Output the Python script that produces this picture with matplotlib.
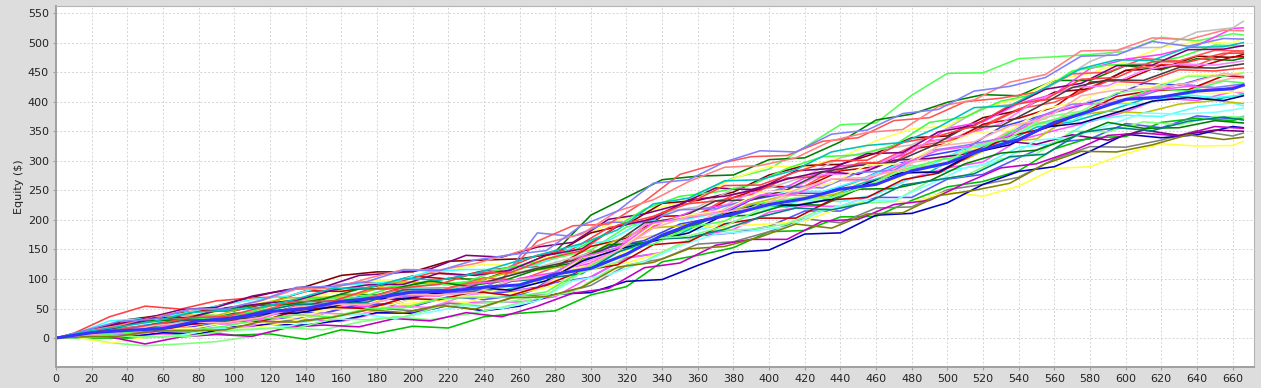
import matplotlib
matplotlib.use("Agg")
import matplotlib.pyplot as plt

grid_a = list(range(0, 661, 20)) + [666]
grid_b = [0] + list(range(10, 651, 20)) + [666]
grid_c = [0] + list(range(15, 656, 20)) + [666]

# equity paths ($), one list per simulated run
run_01 = [0, 12, 15, 26, 39, 38, 49, 67, 66, 83, 94, 90, 100, 116, 135, 149, 188, 207, 245, 271, 286, 323, 361, 364, 411, 448, 449, 473, 476, 480, 485, 509, 503, 515, 513]
run_02 = [0, 7, 17, 25, 28, 42, 43, 56, 74, 73, 90, 101, 99, 121, 146, 208, 238, 268, 274, 276, 302, 305, 332, 369, 379, 399, 412, 410, 436, 436, 461, 454, 473, 470, 474]
run_03 = [0, 12, 16, 18, 32, 38, 40, 60, 64, 66, 85, 85, 102, 98, 120, 146, 160, 199, 209, 243, 255, 257, 291, 296, 324, 333, 360, 388, 399, 424, 453, 463, 462, 485, 484]
run_04 = [0, 4, 7, 18, 17, 29, 33, 34, 49, 56, 53, 70, 65, 73, 94, 103, 136, 144, 173, 178, 189, 215, 215, 238, 238, 269, 277, 305, 331, 337, 363, 356, 376, 371, 375]
run_05 = [0, 13, 24, 28, 39, 51, 62, 67, 80, 98, 99, 114, 125, 122, 142, 180, 204, 222, 238, 270, 291, 290, 305, 334, 354, 359, 390, 405, 437, 448, 468, 492, 501, 499, 508]
run_06 = [0, 2, 3, 7, 6, 14, 25, 31, 28, 42, 43, 59, 61, 61, 70, 104, 135, 145, 173, 184, 213, 223, 223, 244, 271, 288, 298, 335, 351, 366, 383, 406, 402, 417, 414]
run_07 = [0, 11, 13, 28, 36, 33, 48, 60, 59, 64, 84, 84, 82, 100, 108, 117, 154, 179, 183, 197, 219, 234, 231, 243, 271, 283, 293, 323, 329, 368, 377, 375, 391, 398, 393]
run_08 = [0, 0, 0, 2, 11, 5, 7, -2, 14, 8, 20, 17, 36, 42, 46, 73, 87, 129, 140, 153, 180, 182, 205, 206, 233, 256, 265, 283, 320, 339, 341, 365, 372, 368, 373]
run_09 = [0, 12, 31, 39, 46, 62, 76, 87, 106, 112, 112, 130, 132, 134, 143, 178, 192, 228, 233, 247, 276, 292, 294, 313, 339, 342, 373, 385, 416, 422, 453, 456, 477, 475, 480]
run_10 = [0, 9, 8, 16, 26, 27, 40, 51, 48, 69, 68, 73, 88, 89, 108, 122, 165, 176, 196, 226, 227, 251, 266, 267, 297, 308, 325, 360, 368, 402, 404, 430, 427, 440, 440]
run_11 = [0, 2, 5, 14, 14, 17, 30, 30, 38, 51, 46, 59, 53, 72, 73, 89, 123, 134, 159, 163, 180, 202, 195, 220, 222, 251, 260, 272, 303, 324, 323, 335, 351, 342, 347]
run_12 = [0, 15, 26, 30, 46, 46, 60, 80, 79, 88, 105, 100, 114, 121, 120, 155, 169, 206, 208, 238, 257, 255, 283, 290, 320, 329, 362, 372, 391, 433, 437, 462, 458, 476, 476]
run_13 = [0, 6, 9, 19, 24, 24, 32, 50, 54, 54, 72, 74, 79, 101, 111, 127, 158, 196, 218, 227, 241, 271, 291, 296, 314, 355, 366, 397, 413, 456, 472, 480, 495, 524, 525]
run_14 = [0, 11, 15, 21, 35, 38, 42, 55, 72, 72, 86, 83, 94, 111, 128, 144, 167, 213, 222, 252, 254, 273, 305, 318, 327, 355, 390, 397, 430, 468, 491, 492, 518, 525, 536]
run_15 = [0, 7, 17, 15, 21, 35, 34, 42, 55, 64, 57, 68, 81, 76, 89, 121, 127, 145, 172, 190, 193, 198, 221, 235, 229, 248, 240, 257, 287, 290, 312, 329, 325, 326, 333]
run_16 = [0, 7, 2, 9, 7, 19, 23, 22, 30, 43, 42, 55, 46, 54, 74, 77, 96, 99, 123, 145, 149, 176, 178, 208, 211, 229, 260, 282, 290, 316, 345, 339, 344, 358, 356]
run_17 = [0, 3, -8, -13, -10, -6, 3, 17, 14, 27, 36, 31, 40, 52, 67, 78, 115, 130, 160, 182, 184, 193, 218, 228, 231, 266, 275, 303, 312, 350, 349, 366, 361, 375, 374]
run_18 = [0, 2, -9, 1, 4, 16, 17, 26, 42, 39, 54, 65, 60, 77, 82, 118, 129, 168, 184, 190, 221, 223, 234, 265, 267, 296, 319, 324, 360, 372, 401, 396, 415, 414, 418]
run_19 = [0, 3, 2, -10, 2, 6, 3, 18, 22, 19, 33, 29, 43, 36, 54, 76, 84, 119, 127, 157, 167, 167, 198, 201, 226, 233, 262, 288, 295, 316, 343, 347, 342, 358, 355]
run_20 = [0, 8, 36, 54, 49, 63, 68, 70, 87, 94, 93, 110, 106, 115, 140, 151, 187, 198, 226, 232, 243, 271, 273, 296, 298, 333, 342, 372, 401, 409, 435, 432, 454, 452, 457]
run_21 = [0, 5, 15, 17, 26, 36, 43, 45, 54, 70, 67, 78, 85, 80, 95, 128, 149, 162, 176, 207, 225, 222, 233, 260, 278, 281, 314, 327, 357, 366, 384, 404, 409, 404, 412]
run_22 = [0, 2, 10, 17, 16, 25, 37, 45, 42, 57, 58, 75, 77, 77, 86, 122, 154, 165, 193, 204, 234, 245, 245, 266, 293, 309, 320, 357, 374, 390, 407, 431, 428, 445, 442]
run_23 = [0, 6, 15, 31, 39, 38, 55, 68, 69, 74, 95, 94, 91, 108, 115, 123, 160, 185, 190, 204, 227, 242, 240, 251, 281, 292, 302, 331, 337, 376, 384, 381, 396, 402, 397]
run_24 = [0, 1, 7, 8, 19, 14, 21, 38, 42, 40, 54, 52, 72, 80, 84, 121, 142, 191, 204, 217, 246, 250, 277, 278, 307, 332, 343, 363, 402, 424, 427, 453, 464, 462, 469]
run_25 = [0, 6, 29, 33, 41, 54, 65, 71, 88, 91, 96, 113, 116, 116, 123, 154, 165, 198, 199, 211, 236, 249, 248, 266, 291, 292, 321, 331, 362, 368, 397, 396, 413, 407, 411]
run_26 = [0, 6, 21, 33, 48, 52, 71, 82, 86, 106, 110, 117, 140, 137, 154, 162, 201, 210, 226, 254, 251, 269, 282, 277, 301, 304, 311, 334, 328, 344, 335, 352, 343, 352, 350]
run_27 = [0, 2, 11, 22, 24, 27, 43, 44, 53, 68, 65, 79, 75, 98, 178, 172, 196, 196, 217, 219, 235, 257, 254, 280, 284, 317, 326, 338, 373, 396, 397, 411, 430, 424, 430]
run_28 = [0, 6, 18, 18, 33, 31, 42, 58, 57, 64, 81, 76, 92, 99, 164, 190, 193, 231, 277, 294, 307, 309, 333, 339, 368, 373, 400, 406, 416, 447, 450, 473, 469, 487, 486]
run_29 = [0, 4, 14, 28, 33, 34, 45, 63, 68, 68, 87, 90, 95, 117, 129, 147, 180, 218, 240, 247, 259, 287, 307, 310, 326, 365, 374, 401, 413, 452, 462, 464, 475, 496, 494]
run_30 = [0, 5, 11, 17, 30, 31, 34, 46, 62, 62, 76, 73, 85, 102, 118, 131, 153, 195, 203, 232, 234, 251, 281, 292, 297, 323, 356, 359, 390, 424, 437, 436, 458, 457, 464]
run_31 = [0, 1, 5, 1, 5, 16, 14, 20, 33, 41, 33, 44, 55, 50, 63, 97, 107, 129, 156, 176, 181, 188, 215, 233, 233, 260, 288, 299, 335, 340, 360, 381, 379, 382, 389]
run_32 = [0, 7, 17, 29, 31, 46, 55, 57, 66, 83, 84, 97, 88, 96, 116, 127, 158, 161, 182, 205, 208, 226, 225, 252, 253, 266, 295, 313, 318, 340, 365, 355, 356, 368, 364]
run_33 = [0, 11, 21, 35, 48, 50, 63, 83, 84, 101, 116, 115, 126, 142, 161, 176, 215, 234, 265, 289, 292, 305, 334, 348, 353, 392, 403, 433, 446, 486, 487, 508, 505, 521, 520]
run_34 = [0, 4, 11, 15, 16, 26, 25, 35, 50, 47, 62, 73, 70, 89, 96, 136, 149, 192, 208, 216, 247, 250, 262, 293, 295, 324, 347, 352, 388, 402, 429, 426, 445, 446, 450]
run_35 = [0, 7, 11, 11, 23, 29, 28, 47, 52, 50, 67, 65, 79, 72, 90, 114, 124, 158, 163, 193, 203, 203, 234, 238, 268, 279, 312, 342, 355, 380, 409, 419, 420, 444, 443]
run_36 = [0, 8, 18, 34, 35, 51, 58, 64, 81, 90, 91, 110, 106, 115, 140, 151, 189, 202, 234, 240, 253, 283, 287, 312, 314, 349, 360, 392, 421, 431, 461, 462, 488, 489, 495]
run_37 = [0, 7, 14, 14, 24, 33, 41, 42, 53, 67, 66, 77, 86, 81, 97, 130, 150, 164, 178, 209, 227, 224, 235, 262, 280, 281, 314, 327, 357, 364, 382, 401, 407, 402, 410]
run_38 = [0, 3, 8, 14, 13, 20, 32, 39, 36, 50, 51, 67, 69, 69, 78, 114, 147, 159, 187, 198, 228, 237, 237, 258, 285, 301, 312, 349, 366, 382, 399, 422, 418, 435, 432]
run_39 = [0, 7, 10, 24, 32, 29, 45, 57, 57, 61, 82, 82, 79, 96, 101, 109, 145, 167, 170, 184, 205, 220, 217, 229, 259, 268, 278, 307, 311, 348, 356, 351, 367, 374, 369]
run_40 = [0, 3, 13, 16, 28, 25, 33, 52, 58, 57, 72, 71, 92, 98, 102, 137, 152, 195, 204, 215, 242, 244, 269, 268, 295, 318, 325, 343, 378, 396, 397, 419, 426, 422, 428]
run_41 = [0, 1, 3, 2, 3, 12, 16, 17, 32, 31, 36, 53, 58, 62, 73, 111, 129, 168, 173, 189, 218, 235, 238, 258, 285, 290, 325, 339, 374, 384, 415, 422, 443, 443, 449]
run_42 = [0, 8, 14, 22, 35, 36, 52, 62, 62, 82, 85, 91, 110, 111, 134, 148, 191, 206, 228, 258, 259, 281, 300, 301, 331, 342, 359, 394, 404, 438, 441, 468, 467, 482, 482]
run_43 = [0, 2, 3, 12, 12, 14, 28, 27, 35, 48, 43, 55, 49, 68, 70, 86, 120, 128, 151, 155, 171, 193, 186, 210, 212, 241, 250, 262, 295, 316, 315, 327, 344, 336, 340]
run_44 = [0, 12, 28, 32, 49, 49, 64, 86, 87, 96, 115, 114, 132, 141, 148, 191, 215, 262, 268, 298, 317, 315, 345, 352, 380, 387, 418, 426, 441, 477, 479, 502, 494, 507, 506]
run_45 = [0, 5, 10, 21, 27, 26, 35, 53, 57, 56, 74, 73, 77, 97, 105, 118, 148, 186, 206, 213, 223, 251, 269, 272, 286, 325, 332, 359, 371, 410, 420, 422, 431, 448, 444]
run_46 = [0, 10, 19, 28, 43, 47, 52, 66, 84, 85, 101, 98, 109, 127, 144, 160, 183, 227, 237, 266, 268, 285, 315, 326, 331, 357, 390, 393, 424, 456, 471, 470, 492, 493, 500]
# highlighted path (thick blue)
median_run = [0, 9, 13, 16, 29, 34, 45, 50, 62, 68, 78, 79, 86, 90, 108, 118, 142, 174, 197, 210, 226, 236, 252, 260, 283, 296, 319, 336, 365, 384, 404, 408, 418, 422, 428]

runs_a = [run_01, run_02, run_03, run_04, run_05, run_06, run_07, run_08,
          run_09, run_10, run_11, run_12, run_13, run_14, run_15, run_16]
runs_b = [run_17, run_18, run_19, run_20, run_21, run_22, run_23, run_24,
          run_25, run_26, run_27, run_28, run_29, run_30, run_31, run_32]
runs_c = [run_33, run_34, run_35, run_36, run_37, run_38, run_39,
          run_40, run_41, run_42, run_43, run_44, run_45, run_46]

colors_a = ['#55ff55', '#008000', '#ff5555', '#5555ff', '#ffff55', '#ff55ff', '#55ffff', '#00c000',
            '#800000', '#ffafaf', '#808080', '#c00000', '#ff40ff', '#c0c0c0', '#ffff40', '#0000c0']
colors_b = ['#80ff80', '#ffff55', '#c000c0', '#ff4040', '#00c0c0', '#4040ff', '#c0c000', '#ff80ff',
            '#40ffff', '#800080', '#8080ff', '#ff5555', '#40ff40', '#404040', '#80ffff', '#008000']
colors_c = ['#ff8080', '#ffff80', '#c00000', '#800080', '#000080', '#55ff55', '#008080',
            '#ff55ff', '#80ff80', '#ff4040', '#808000', '#8080ff', '#ffafaf', '#00c0c0']

W, H = 1261, 388
fig = plt.figure(figsize=(W / 100, H / 100), dpi=100, facecolor='#dddddd')
ax = fig.add_axes([56 / W, (H - 367) / H, (1254 - 56) / W, (367 - 6) / H])
ax.set_facecolor('white')

for grid, runs, cols in [(grid_a, runs_a, colors_a), (grid_b, runs_b, colors_b), (grid_c, runs_c, colors_c)]:
    for vals, col in zip(runs, cols):
        ax.plot(grid, vals, color=col, lw=1.15)
ax.plot(grid_a, median_run, color='#3333ff', lw=2.2)

ax.set_xlim(0, 672)
ax.set_ylim(-49, 562)
ax.set_xticks(range(0, 661, 20))
ax.set_yticks(range(0, 551, 50))
ax.grid(True, color='#d4d4d4', lw=0.7, linestyle=(0, (2, 2)))
ax.set_axisbelow(True)

for side in ['top', 'right']:
    ax.spines[side].set_color('#b4b4b4')
    ax.spines[side].set_linewidth(0.8)
for side in ['left', 'bottom']:
    ax.spines[side].set_color('#a0a0a0')
    ax.spines[side].set_linewidth(1.4)

ax.tick_params(labelsize=8, length=2, color='#a0a0a0', pad=3, labelcolor='#222222')
ax.set_ylabel('Equity ($)', fontsize=8, color='#222222', labelpad=3)

fig.savefig('out.png', dpi=100, facecolor=fig.get_facecolor())
